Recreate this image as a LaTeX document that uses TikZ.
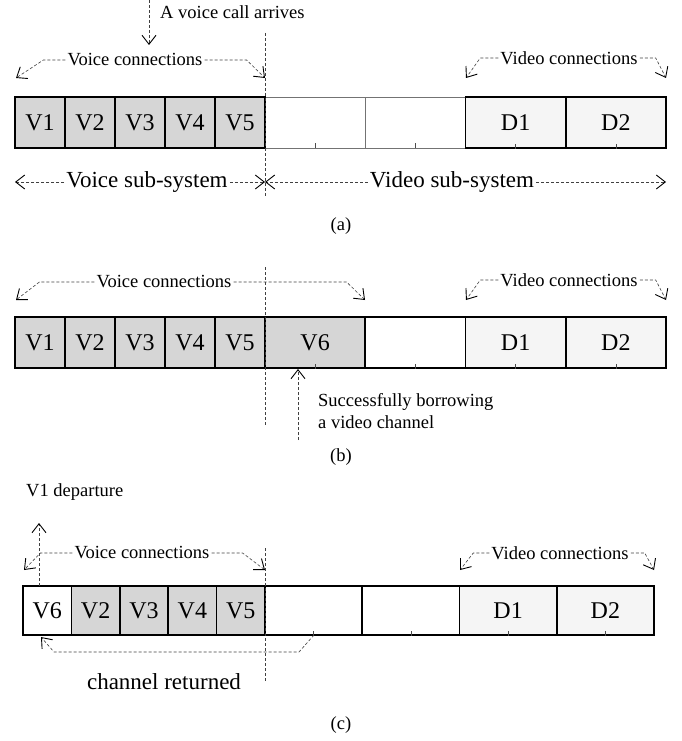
\documentclass[tikz,border=0pt]{standalone}
\usepackage{fontspec}
\setmainfont{Liberation Serif}
\usetikzlibrary{arrows.meta}
\tikzset{
  cell/.style={draw, line width=1.5pt, minimum height=51pt, inner sep=0pt, font=\fontsize{24}{24}\selectfont},
  cellV/.style={cell, fill=black!16},
  cellD/.style={cell, fill=black!4},
  cellE/.style={cell, fill=white},
  lbl/.style={font=\fontsize{18.5}{20}\selectfont, inner sep=2pt},
  biglbl/.style={font=\fontsize{23}{26}\selectfont, inner sep=2pt},
  guide/.style={densely dashed, line width=0.6pt, black!75},
  tick/.style={line width=0.6pt, black!70}
}
\begin{document}
\begin{tikzpicture}[x=1pt, y=-1pt, >={Straight Barb[length=9pt,width=14pt,line width=0.9pt,color=black]}]
\useasboundingbox (0,0) rectangle (682,741);
% (a)
\node[cellE, minimum width=100.25pt, draw=black!55, line width=0.7pt] (a6) at (315.1,122.5) {};
\node[cellE, minimum width=100.25pt, draw=black!55, line width=0.7pt] (a7) at (415.4,122.5) {};
\node[cellV, minimum width=50pt] (a2) at (90,122.5) {V2};
\node[cellV, minimum width=50pt] (a3) at (140,122.5) {V3};
\node[cellV, minimum width=50pt] (a4) at (190,122.5) {V4};
\node[cellV, minimum width=50pt] (a5) at (240,122.5) {V5};
\node[cellD, minimum width=100.25pt] (a8) at (515.6,122.5) {D1};
\node[cellD, minimum width=100.25pt] (a9) at (615.9,122.5) {D2};
\node[cellV, minimum width=50pt, line width=2.2pt] (a1) at (40,122.5) {V1};
\draw[tick] (a6.south) -- ++(0,-5);
\draw[tick] (a7.south) -- ++(0,-5);
\draw[tick] (a8.south) -- ++(0,-5);
\draw[tick] (a9.south) -- ++(0,-5);
\node[lbl, anchor=west] (call) at (158,12) {A voice call arrives};
\coordinate (callTop) at (149,0);
\coordinate (callTip) at (149,45);
\draw[guide,->] (callTop) -- (callTip);
\node[lbl] (vcA) at (135,60) {Voice connections};
\coordinate (vcAl) at (16,78);
\coordinate (vcAr) at (265,78);
\draw[guide,->] (vcA.west) -- ++(-22,0) -- (vcAl);
\draw[guide,->] (vcA.east) -- ++(42,0) -- (vcAr);
\node[lbl] (vdA) at (569,58) {Video connections};
\coordinate (vdAl) at (466,78);
\coordinate (vdAr) at (666,78);
\draw[guide,->] (vdA.west) -- ++(-18,0) -- (vdAl);
\draw[guide,->] (vdA.east) -- ++(16,0) -- (vdAr);
\coordinate (dA1) at (265,33);
\coordinate (dA2) at (265,197);
\draw[guide] (dA1) -- (dA2);
\node[biglbl] (vss) at (147,182) {Voice sub-system};
\node[biglbl] (dss) at (452,182) {Video sub-system};
\coordinate (ssL) at (15,182);
\coordinate (ssM) at (265,182);
\coordinate (ssR) at (666,182);
\draw[guide,->] (vss.west) -- (ssL);
\draw[guide,->] (vss.east) -- (ssM);
\draw[guide,->] (dss.west) -- (ssM);
\draw[guide,->] (dss.east) -- (ssR);
\node[lbl] (capA) at (341,226) {(a)};
% (b)
\node[cellV, minimum width=50pt] (b1) at (40,342.5) {V1};
\node[cellV, minimum width=50pt] (b2) at (90,342.5) {V2};
\node[cellV, minimum width=50pt] (b3) at (140,342.5) {V3};
\node[cellV, minimum width=50pt] (b4) at (190,342.5) {V4};
\node[cellV, minimum width=50pt] (b5) at (240,342.5) {V5};
\node[cellV, minimum width=100.25pt] (b6) at (315.1,342.5) {V6};
\node[cellE, minimum width=100.25pt] (b7) at (415.4,342.5) {};
\node[cellD, minimum width=100.25pt] (b8) at (515.6,342.5) {D1};
\node[cellD, minimum width=100.25pt] (b9) at (615.9,342.5) {D2};
\draw[tick] (b6.south) -- ++(0,-5);
\draw[tick] (b7.south) -- ++(0,-5);
\draw[tick] (b8.south) -- ++(0,-5);
\draw[tick] (b9.south) -- ++(0,-5);
\node[lbl] (vcB) at (164,282) {Voice connections};
\coordinate (vcBl) at (16,300);
\coordinate (vcBr) at (365,300);
\draw[guide,->] (vcB.west) -- ++(-55,0) -- (vcBl);
\draw[guide,->] (vcB.east) -- ++(113,0) -- (vcBr);
\node[lbl] (vdB) at (569,280) {Video connections};
\coordinate (vdBl) at (466,300);
\coordinate (vdBr) at (666,300);
\draw[guide,->] (vdB.west) -- ++(-18,0) -- (vdBl);
\draw[guide,->] (vdB.east) -- ++(16,0) -- (vdBr);
\coordinate (dB1) at (265,267);
\coordinate (dB2) at (265,425);
\draw[guide] (dB1) -- (dB2);
\coordinate (brT) at (298,440);
\coordinate (brTip) at (298,369);
\draw[guide,->] (brT) -- (brTip);
\node[lbl, anchor=west] (sb1) at (316,402) {Successfully borrowing};
\node[lbl, anchor=west] (sb2) at (316,422) {a video channel};
\node[lbl] (capB) at (341,457) {(b)};
% (c)
\node[cellE, minimum width=48.4pt, minimum height=49pt] (c1) at (47.2,610.5) {V6};
\node[cellV, minimum width=48.4pt, minimum height=49pt] (c2) at (95.6,610.5) {V2};
\node[cellV, minimum width=48.4pt, minimum height=49pt] (c3) at (144,610.5) {V3};
\node[cellV, minimum width=48.4pt, minimum height=49pt] (c4) at (192.4,610.5) {V4};
\node[cellV, minimum width=48.4pt, minimum height=49pt] (c5) at (240.8,610.5) {V5};
\node[cellE, minimum width=97.25pt, minimum height=49pt] (c6) at (313.6,610.5) {};
\node[cellE, minimum width=97.25pt, minimum height=49pt] (c7) at (410.9,610.5) {};
\node[cellD, minimum width=97.25pt, minimum height=49pt] (c8) at (508.1,610.5) {D1};
\node[cellD, minimum width=97.25pt, minimum height=49pt] (c9) at (605.4,610.5) {D2};
\draw[tick] (c6.south) -- ++(0,-5);
\draw[tick] (c7.south) -- ++(0,-5);
\draw[tick] (c8.south) -- ++(0,-5);
\draw[tick] (c9.south) -- ++(0,-5);
\node[lbl, anchor=west] (dep) at (24,492) {V1 departure};
\coordinate (depS) at (39,586);
\coordinate (depT) at (39,523);
\draw[guide,->] (depS) -- (depT);
\node[lbl] (vcC) at (142,553) {Voice connections};
\coordinate (vcCl) at (24,570);
\coordinate (vcCr) at (265,570);
\draw[guide,->] (vcC.west) -- ++(-32,0) -- (vcCl);
\draw[guide,->] (vcC.east) -- ++(31,0) -- (vcCr);
\node[lbl] (vdC) at (560,553) {Video connections};
\coordinate (vdCl) at (460,570);
\coordinate (vdCr) at (654,570);
\draw[guide,->] (vdC.west) -- ++(-16,0) -- (vdCl);
\draw[guide,->] (vdC.east) -- ++(14,0) -- (vdCr);
\coordinate (dC1) at (265,548);
\coordinate (dC2) at (265,682);
\draw[guide] (dC1) -- (dC2);
\coordinate (crS) at (314,635);
\coordinate (crT) at (41,637);
\draw[guide,->] (crS) -- (299,652) -- (54,652) -- (crT);
\node[biglbl] (cr) at (164,682) {channel returned};
\node[lbl] (capC) at (341,725) {(c)};
\end{tikzpicture}
\end{document}
